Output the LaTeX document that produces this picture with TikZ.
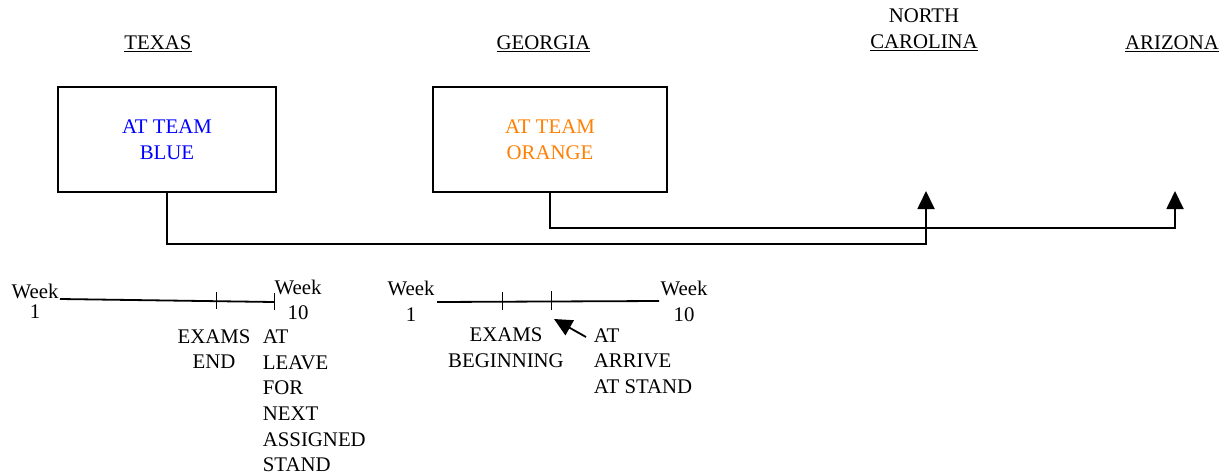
\documentclass[tikz,border=0pt]{standalone}
\usepackage{fontspec}
\setmainfont{Liberation Serif}
\usetikzlibrary{arrows.meta}

\definecolor{teamblue}{RGB}{0,0,255}
\definecolor{teamorange}{RGB}{255,128,0}

\begin{document}
\begin{tikzpicture}[
            x = 1pt, y = -1pt, % measure from the top left corner
            > = {Triangle[length=18pt, width=17pt]}, % arrow head style
            line width = 1.8pt, % line style
            font = \fontsize{20.8}{25.6}\selectfont
        ]

        \tikzstyle{heading}=[
            inner sep = 0pt,
            align = center
        ]
        \tikzstyle{team box}=[
            draw = black,
            line width = 2pt,
            minimum height = 105pt,
            align = center,
            inner sep = 0pt
        ]
        \tikzstyle{tick}=[line width = 0.8pt]
        \tikzstyle{note}=[inner sep = 0pt, align = center]

        \useasboundingbox (0,0) rectangle (1225,474);

        % states
        \node[heading, anchor=base] (texas) at (158,49.5) {\underline{TEXAS}};
        \node[heading, anchor=base] (georgia) at (543.5,49.5) {\underline{GEORGIA}};
        \node[heading] (ncarolina) at (924,30) {NORTH\\\underline{CAROLINA}};
        \node[heading, anchor=base] (arizona) at (1172,49.5) {\underline{ARIZONA}};

        % teams
        \node[team box, minimum width=218pt, text=teamblue] (blue) at (167,139.5) {AT TEAM\\BLUE};
        \node[team box, minimum width=234pt, text=teamorange] (orange) at (550,139.5) {AT TEAM\\ORANGE};

        \coordinate (ncTip) at (926,191);
        \coordinate (azTip) at (1175,191);

        \draw[->] (blue.south) -- ++(0,51) -| (ncTip);
        \draw[->] (orange.south) -- ++(0,35) -| (azTip);

        % texas timeline
        \coordinate (t1a) at (60,299);
        \coordinate (t1b) at (274,302);
        \draw (t1a) -- (t1b) coordinate[pos=0.73] (t1x);
        \foreach \p in {t1x, t1b}
            \draw[tick] (\p) ++(0,-9.5) -- ++(0,17.5);

        \node[note] (w1a) at (35,301) {Week\\[-6pt]1};
        \node[note] (w10a) at (298,300) {Week\\10};
        \node[note] (examsEnd) at (214,349) {EXAMS\\END};
        \node[note, align=left, anchor=west] (leave) at (262,401) {AT\\LEAVE\\FOR\\NEXT\\ASSIGNED\\STAND};

        % georgia timeline
        \coordinate (t2a) at (437,302);
        \coordinate (t2b) at (659,301);
        \draw (t2a) -- (t2b) coordinate[pos=0.295] (t2x) coordinate[pos=0.515] (t2y);
        \foreach \p in {t2x, t2y}
            \draw[tick] (\p) ++(0,-10) -- ++(0,18.5);

        \node[note] (w1b) at (411,301.5) {Week\\1};
        \node[note] (w10b) at (684,301.5) {Week\\10};
        \node[note] (examsBegin) at (506,348) {EXAMS\\BEGINNING};
        \node[note, align=left, anchor=west] (arrive) at (593,361) {AT\\ARRIVE\\AT STAND};

        \coordinate (arrTail) at (586,337);
        \coordinate (arrTip) at (554,319);
        \draw[->] (arrTail) -- (arrTip);

    \end{tikzpicture}
\end{document}
